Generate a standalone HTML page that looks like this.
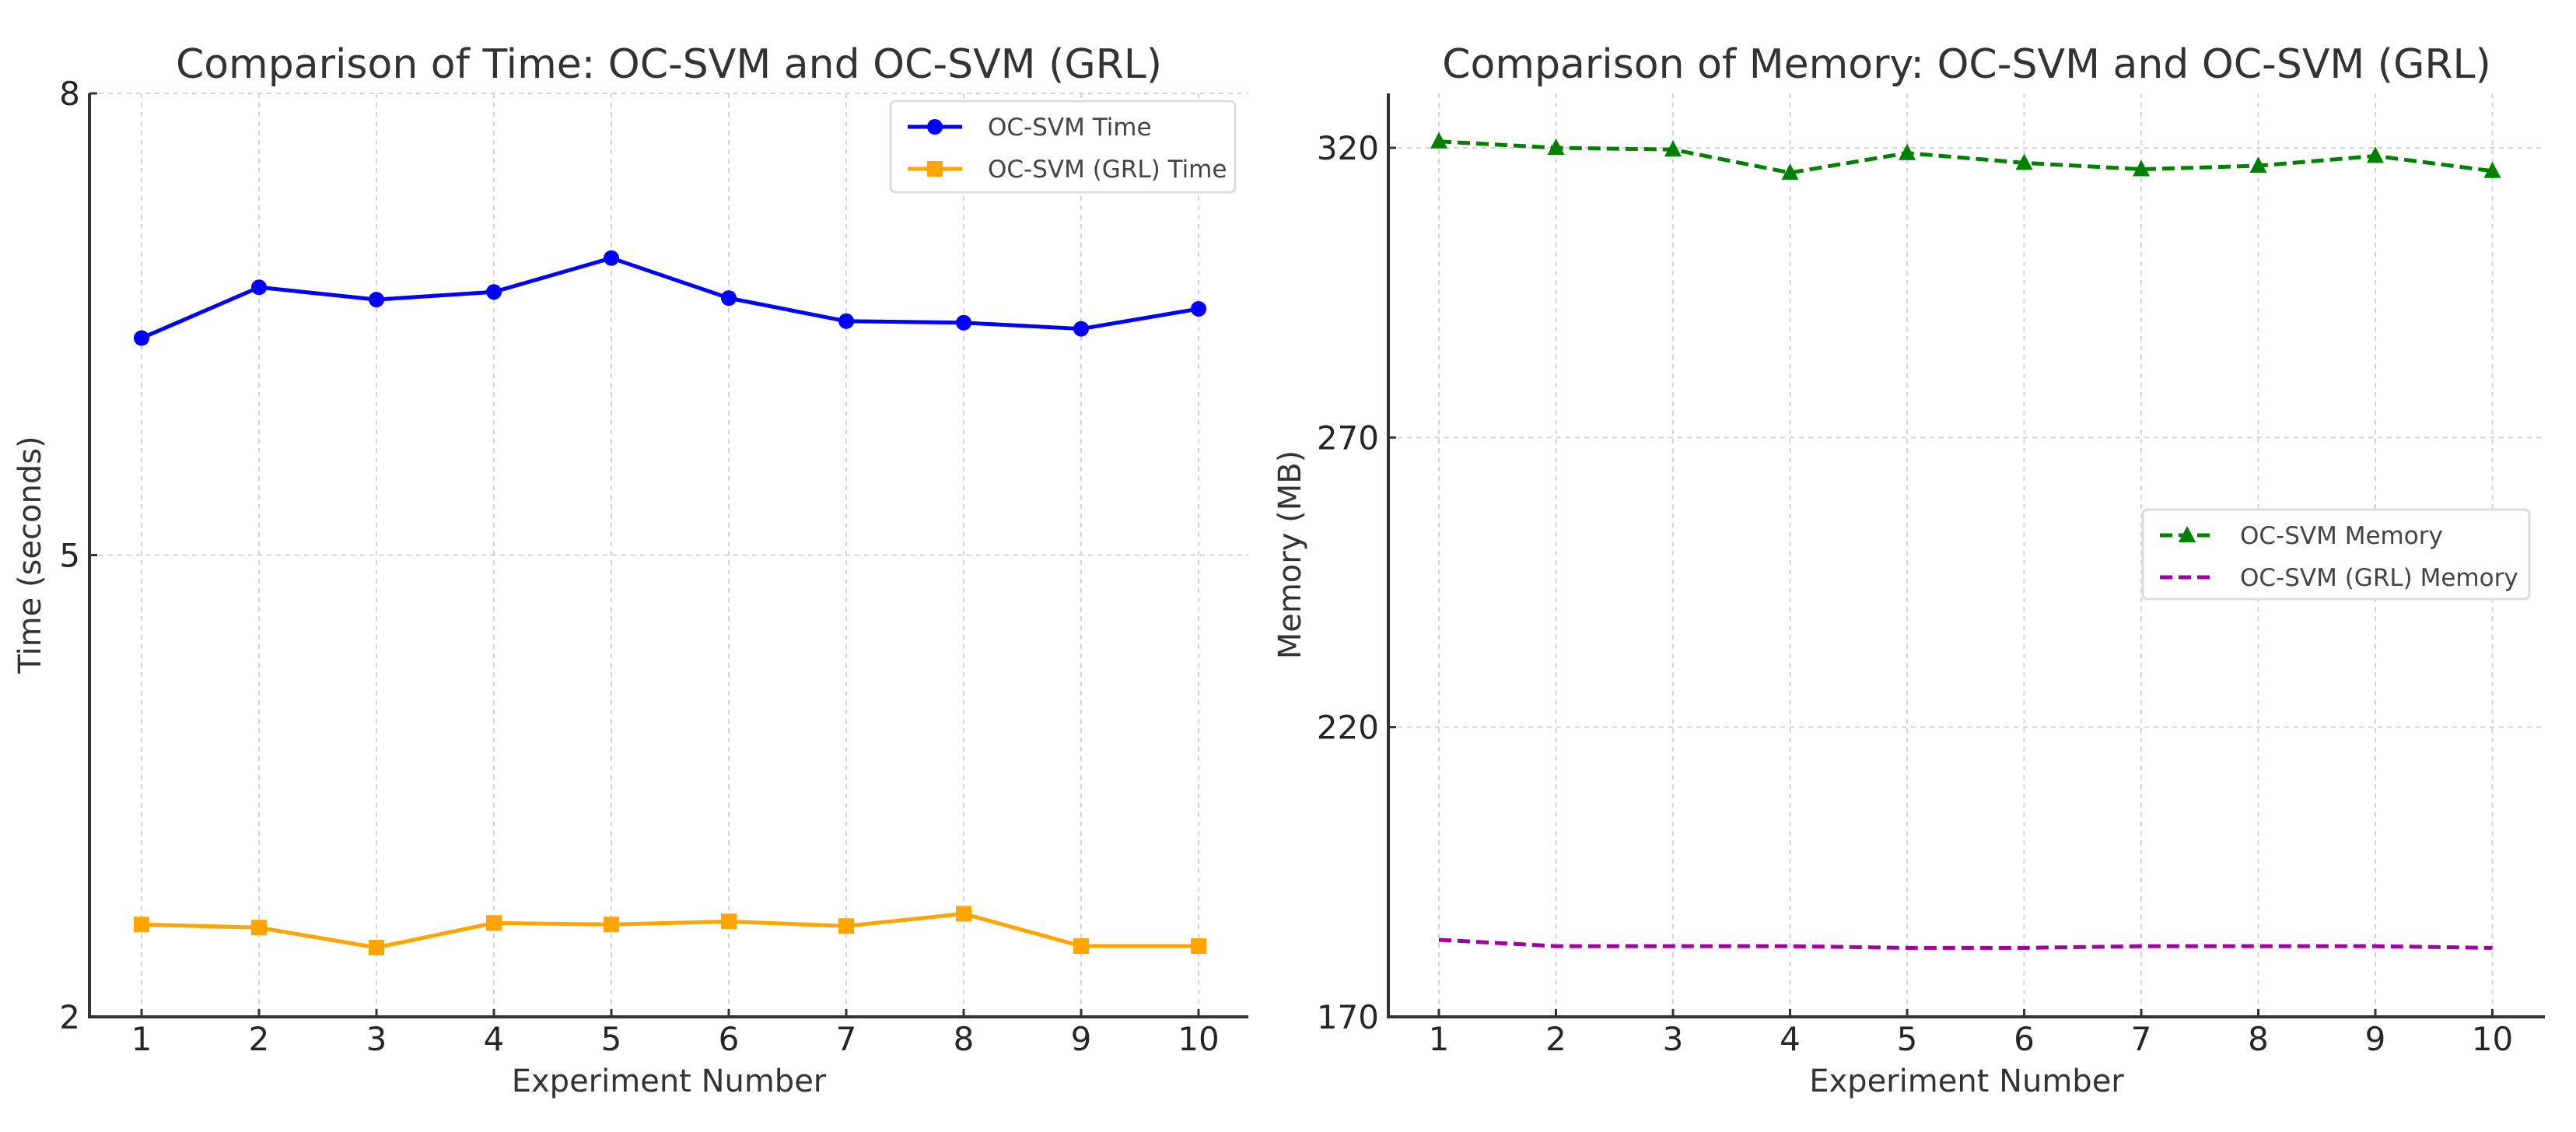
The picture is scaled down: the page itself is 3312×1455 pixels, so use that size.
<!DOCTYPE html>
<html><head><meta charset="utf-8"><style>
html,body{margin:0;padding:0;background:#fff;}
svg{display:block;font-family:"DejaVu Sans","Liberation Sans",sans-serif;}
</style></head><body>
<svg id="fig" width="3312" height="1455" viewBox="0 0 3312 1455" xmlns="http://www.w3.org/2000/svg"></svg>
<script>
const experiments = [1,2,3,4,5,6,7,8,9,10];
const ocsvmTime = [6.41,6.74,6.66,6.71,6.93,6.67,6.52,6.51,6.47,6.60];
const grlTime = [2.60,2.58,2.45,2.61,2.60,2.62,2.59,2.67,2.46,2.46];
const timeTicks = [2,5,8];
const ocsvmMem = [321.1,320.0,319.7,315.7,319.1,317.4,316.3,316.9,318.6,316.0];
const grlMem = [183.3,182.2,182.2,182.2,181.9,181.9,182.2,182.2,182.2,181.9];
const memTicks = [170,220,270,320];

const NS="http://www.w3.org/2000/svg";
const svg=document.getElementById('fig');
function mk(tag,attrs,parent){const e=document.createElementNS(NS,tag);for(const k in attrs)e.setAttribute(k,attrs[k]);(parent||svg).appendChild(e);return e;}

function panel(cfg){
  const g=mk('g',{});
  
  
  const xs=v=>cfg.x1+(v-1)*cfg.xstep;
  const ys=v=>cfg.bottom-(v-cfg.ymin)/(cfg.ymax-cfg.ymin)*(cfg.bottom-cfg.ytop);
  // grid
  experiments.forEach(v=>{
    const l=mk('line',{x1:xs(v),x2:xs(v),y1:cfg.top,y2:cfg.bottom,stroke:'#d4d4d4','stroke-width':2,'stroke-dasharray':'6,6'},g);
    
    
  });
  cfg.ticks.forEach(v=>{
    const l=mk('line',{x1:cfg.left,x2:cfg.right,y1:ys(v),y2:ys(v),stroke:'#d4d4d4','stroke-width':2,'stroke-dasharray':'6,6'},g);
    
    
  });
  // spines
  const ya=mk('line',{x1:cfg.left,x2:cfg.left,y1:cfg.top,y2:cfg.bottom+2,stroke:'#333','stroke-width':4},g);
  
  
  const xa=mk('line',{x1:cfg.left-2,x2:cfg.right,y1:cfg.bottom,y2:cfg.bottom,stroke:'#333','stroke-width':4},g);
  
  
  // ticks
  experiments.forEach(v=>{
    mk('line',{x1:xs(v),x2:xs(v),y1:cfg.bottom,y2:cfg.bottom-10,stroke:'#333','stroke-width':3},g);
    const t=mk('text',{x:xs(v),y:cfg.bottom+43,'font-size':42,'text-anchor':'middle',fill:'#262626'},g);
    t.textContent=v;
    
    
  });
  cfg.ticks.forEach(v=>{
    mk('line',{x1:cfg.left,x2:cfg.left+10,y1:ys(v),y2:ys(v),stroke:'#333','stroke-width':3},g);
    const t=mk('text',{x:cfg.left-12,y:ys(v)+15,'font-size':42,'text-anchor':'end',fill:'#262626'},g);
    t.textContent=v;
    
    
  });
  // series
  cfg.series.forEach(s=>{
    const pts=s.data.map((v,i)=>xs(experiments[i])+','+ys(v)).join(' ');
    const pl=mk('polyline',{points:pts,fill:'none',stroke:s.color,'stroke-width':5,'stroke-linejoin':'round','stroke-dasharray':s.dash||'none'},g);
    
    
    s.data.forEach((v,i)=>{
      const x=xs(experiments[i]),y=ys(v);let m=null;
      if(s.marker==='circle')m=mk('circle',{cx:x,cy:y,r:10,fill:s.color},g);
      else if(s.marker==='square')m=mk('rect',{x:x-10,y:y-10,width:20,height:20,fill:s.color},g);
      else if(s.marker==='tri')m=mk('polygon',{points:`${x},${y-12} ${x+11},${y+9} ${x-11},${y+9}`,fill:s.color},g);
      if(m){}
    });
  });
  // title & labels
  const ti=mk('text',{x:(cfg.left+cfg.right)/2,y:100,'font-size':52,'text-anchor':'middle',fill:'#333'},g);
  ti.textContent=cfg.title;
  
  
  const xl=mk('text',{x:(cfg.left+cfg.right)/2,y:1403,'font-size':40,'text-anchor':'middle',fill:'#333'},g);
  xl.textContent='Experiment Number';
  
  
  const yl=mk('text',{x:0,y:0,'font-size':40,'text-anchor':'middle',fill:'#333',transform:`translate(${cfg.ylabX},713) rotate(-90)`},g);
  yl.textContent=cfg.ylabel;
  
  
  // legend
  const L=cfg.legend;
  const lg=mk('g',{},g);
  
  
  mk('rect',{x:L.x,y:L.y,width:L.w,height:L.h,rx:6,fill:'#fff',stroke:'#ddd','stroke-width':3},lg);
  cfg.series.forEach((s,i)=>{
    const ry=L.y+33+i*54;
    mk('line',{x1:L.x+22,x2:L.x+92,y1:ry,y2:ry,stroke:s.color,'stroke-width':5,'stroke-dasharray':s.dash?'16,8':'none'},lg);
    const cx=L.x+57;
    if(s.marker==='circle')mk('circle',{cx:cx,cy:ry,r:10,fill:s.color},lg);
    if(s.marker==='square')mk('rect',{x:cx-10,y:ry-10,width:20,height:20,fill:s.color},lg);
    if(s.marker==='tri')mk('polygon',{points:`${cx},${ry-12} ${cx+11},${ry+9} ${cx-11},${ry+9}`,fill:s.color},lg);
    const t=mk('text',{x:L.x+125,y:ry+11,'font-size':31,fill:'#444'},lg);
    t.textContent=s.label;
    
    
  });
}

panel({name:'time-chart',left:115,right:1605,top:120,bottom:1307,ytop:120,ymin:2,ymax:8,x1:182,xstep:151,ticks:timeTicks,
  title:'Comparison of Time: OC-SVM and OC-SVM (GRL)',ylabel:'Time (seconds)',ylabX:52,
  legend:{x:1145,y:130,w:443,h:117},
  series:[{id:'ocsvm-time',data:ocsvmTime,color:'#0000ff',marker:'circle',label:'OC-SVM Time'},
          {id:'grl-time',data:grlTime,color:'#ffa500',marker:'square',label:'OC-SVM (GRL) Time'}]});
panel({name:'memory-chart',left:1785,right:3272,top:120,bottom:1307,ytop:190,ymin:170,ymax:320,x1:1850,xstep:150.5,ticks:memTicks,
  title:'Comparison of Memory: OC-SVM and OC-SVM (GRL)',ylabel:'Memory (MB)',ylabX:1672,
  legend:{x:2755,y:655,w:497,h:115},
  series:[{id:'ocsvm-memory',data:ocsvmMem,color:'#008000',marker:'tri',dash:'16,8',label:'OC-SVM Memory'},
          {id:'grl-memory',data:grlMem,color:'#a000a0',marker:null,dash:'16,8',label:'OC-SVM (GRL) Memory'}]});
</script>
</body></html>
